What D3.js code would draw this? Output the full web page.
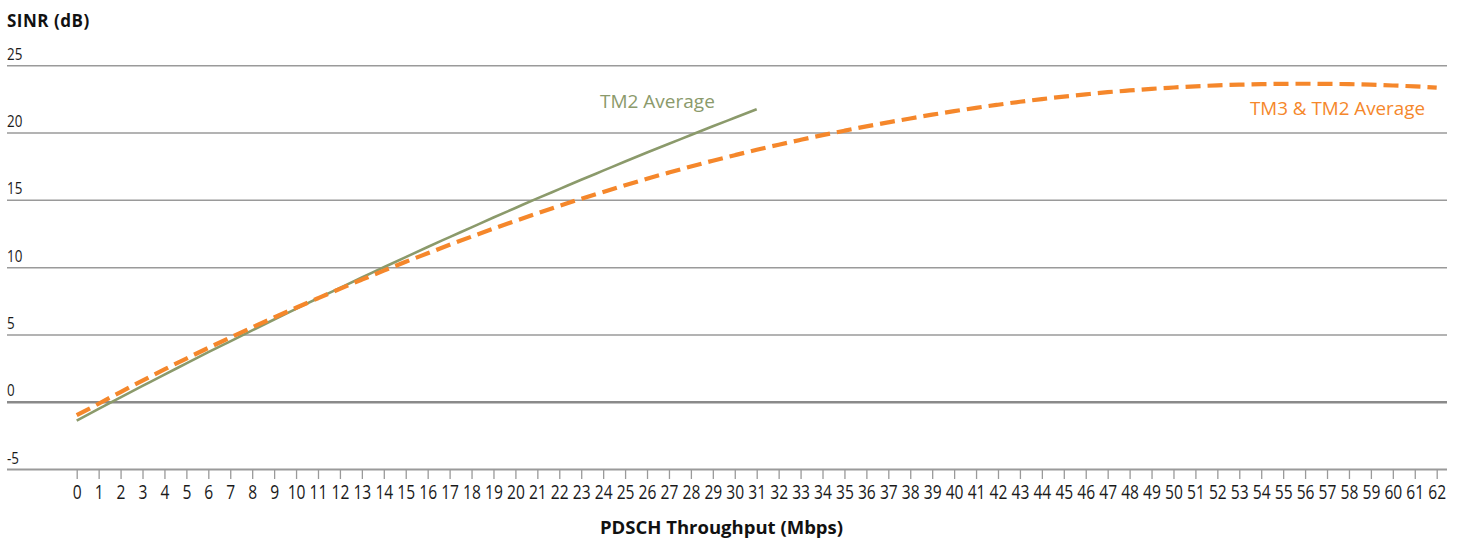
<!DOCTYPE html>
<html>
<head>
<meta charset="utf-8">
<script src="https://cdn.jsdelivr.net/npm/d3@7/dist/d3.min.js"></script>
<style>
  html, body { margin: 0; padding: 0; background: #ffffff; }
  svg { display: block; }
</style>
</head>
<body>
<svg id="chart" width="1461" height="539"></svg>
<script>
// ---- data ----
const xTicks = d3.range(0, 63);
const yTicks = [-5, 0, 5, 10, 15, 20, 25];

const tm2X = [0,1,2,3,4,5,6,7,8,9,10,11,12,13,14,15,16,17,18,19,20,21,22,23,24,25,26,27,28,29,30,31];
const tm2Y = [-1.40,-0.53,0.32,1.17,2.02,2.85,3.68,4.49,5.30,6.11,6.90,7.69,8.46,9.23,9.99,10.75,11.50,12.23,12.96,13.69,14.40,15.11,15.80,16.49,17.17,17.85,18.52,19.17,19.82,20.47,21.10,21.73];

const tm3X = [0,1,2,3,4,5,6,7,8,9,10,11,12,13,14,15,16,17,18,19,20,21,22,23,24,25,26,27,28,29,30,31,32,33,34,35,36,37,38,39,40,41,42,43,44,45,46,47,48,49,50,51,52,53,54,55,56,57,58,59,60,61,62];
const tm3Y = [-1.00,-0.15,0.72,1.57,2.40,3.21,4.00,4.77,5.52,6.26,6.98,7.69,8.39,9.07,9.74,10.40,11.03,11.66,12.27,12.86,13.44,14.00,14.55,15.08,15.59,16.09,16.57,17.03,17.48,17.91,18.32,18.72,19.10,19.46,19.81,20.14,20.46,20.76,21.05,21.33,21.59,21.84,22.07,22.29,22.49,22.67,22.84,23.00,23.13,23.25,23.35,23.44,23.51,23.56,23.60,23.62,23.63,23.62,23.60,23.56,23.50,23.43,23.34];

const seriesLabels = ["TM2 Average", "TM3 & TM2 Average"];
const yTitle = "SINR (dB)";
const xTitle = "PDSCH Throughput (Mbps)";

// ---- layout ----
const svg = d3.select("#chart");
const gridLeft = 7, gridRight = 1447;
const x = d3.scaleLinear().domain([0, 62]).range([76.7, 1436.7]);
const y = d3.scaleLinear().domain([-5, 25]).range([469, 65.3]);

const sans = "'Open Sans', 'Lato', 'DejaVu Sans', sans-serif";
const fmt = d => String(d);

// Gridlines (y)
const yAxis = d3.axisLeft(y).tickValues(yTicks).tickSize(0).tickFormat(fmt);
const gy = svg.append("g").call(yAxis);
gy.select(".domain").remove();
gy.selectAll(".tick").each(function(d) {
  const t = d3.select(this);
  t.append("line")
    .attr("x1", gridLeft).attr("x2", gridRight)
    .attr("y1", 0).attr("y2", 0)
    .attr("stroke", d === 0 ? "#8a8a8a" : "#9a9a9a")
    .attr("stroke-width", d === 0 ? 2.5 : (d === -5 ? 2 : 1.5));
  t.select("text")
    .attr("x", 0).attr("dy", null).attr("y", 0)
    .attr("transform", `translate(${gridLeft},-6) scale(0.84,1)`)
    .attr("text-anchor", "start")
    .attr("fill", "#1a1a1a")
    .style("font-family", sans)
    .style("font-size", "16px");
});

// X axis ticks
const xAxis = d3.axisBottom(x).tickValues(xTicks).tickSize(10).tickSizeOuter(0).tickFormat(fmt);
const gx = svg.append("g").attr("transform", `translate(0,${y(-5)})`).call(xAxis);
gx.select(".domain").remove();
gx.selectAll(".tick line").attr("stroke", "#9a9a9a").attr("stroke-width", 1.3);
gx.selectAll(".tick text")
  .attr("fill", "#1a1a1a")
  .attr("dy", null).attr("y", 0)
  .attr("transform", "translate(0,30) scale(0.8,1)")
  .style("font-family", sans)
  .style("font-size", "19.5px");

// Lines
const tm2 = tm2X.map((v, i) => [v, tm2Y[i]]);
const tm3 = tm3X.map((v, i) => [v, tm3Y[i]]);
const line = d3.line().x(d => x(d[0])).y(d => y(d[1])).curve(d3.curveMonotoneX);

svg.append("path").datum(tm2)
  .attr("d", line)
  .attr("fill", "none")
  .attr("stroke", "#8b9a6b")
  .attr("stroke-width", 2.6);

svg.append("path").datum(tm3)
  .attr("d", line)
  .attr("fill", "none")
  .attr("stroke", "#f5872b")
  .attr("stroke-width", 4.2)
  .attr("stroke-dasharray", "15,7");

// Series labels
svg.append("text")
  .attr("x", 600).attr("y", 107.5)
  .attr("fill", "#8b9a6b")
  .style("font-family", sans)
  .style("font-size", "19px")
  .text(seriesLabels[0]);

svg.append("text")
  .attr("x", 1250).attr("y", 115)
  .attr("fill", "#f5872b")
  .style("font-family", sans)
  .style("font-size", "18.8px")
  .text(seriesLabels[1]);

// Titles
svg.append("text")
  .attr("x", 7).attr("y", 27)
  .attr("fill", "#111")
  .style("font-family", sans)
  .style("font-weight", "700")
  .style("font-size", "17px")
  .style("letter-spacing", "0.5px")
  .text(yTitle);

svg.append("text")
  .attr("x", 721.5).attr("y", 534)
  .attr("text-anchor", "middle")
  .attr("fill", "#111")
  .style("font-family", sans)
  .style("font-weight", "700")
  .style("font-size", "18.5px")
  .text(xTitle);
</script>
</body>
</html>
